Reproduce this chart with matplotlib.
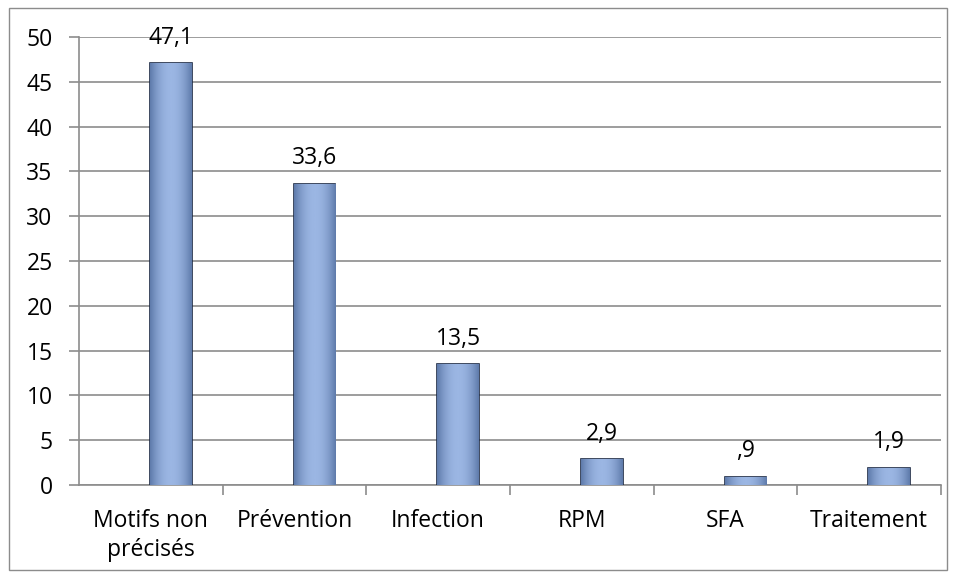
import numpy as np
import matplotlib.pyplot as plt
from matplotlib.patches import Rectangle

categories = ["Motifs non\nprécisés", "Prévention", "Infection", "RPM", "SFA", "Traitement"]
values = [47.1, 33.6, 13.5, 2.9, 0.9, 1.9]
value_labels = ["47,1", "33,6", "13,5", "2,9", ",9", "1,9"]

plt.rcParams['font.family'] = ['Open Sans', 'DejaVu Sans']
FS = 16.5

fig = plt.figure(figsize=(9.58, 5.78), dpi=100)
ax = fig.add_axes([0.0825, 0.161, 0.8995, 0.775])

# chart border around the whole figure
fig.patches.append(Rectangle((9 / 958, 8 / 578), 938 / 958, 562 / 578,
                             transform=fig.transFigure, fill=False,
                             edgecolor='#8c8c8c', linewidth=1))

x = np.arange(len(categories))
# bars sit a little right of the category centre
bar_x = x + 0.14
bars = ax.bar(bar_x, values, width=0.29, color='#8aa5d4', edgecolor='#1c2a44',
              linewidth=1.2, zorder=3)

# shaded fill: darker at the sides, lighter in the middle
grad = np.linspace(0, 1, 64)
shade = 1 - (2 * grad - 1) ** 2
cmap = plt.matplotlib.colors.LinearSegmentedColormap.from_list(
    'bar', ['#5f7bab', '#9bb6e3'])
for bar in bars:
    bx, by = bar.get_x(), bar.get_y()
    w, h = bar.get_width(), bar.get_height()
    im = ax.imshow(shade[np.newaxis, :], cmap=cmap, aspect='auto',
                   extent=[bx, bx + w, by, by + h], zorder=3.5)
    im.set_clip_path(bar)

for xi, v, lab in zip(bar_x, values, value_labels):
    ax.annotate(lab, (xi, v), xytext=(0, 14), textcoords='offset points',
                ha='center', va='baseline', fontsize=FS, color='black')

ax.set_xlim(-0.5, len(categories) - 0.5)
ax.set_ylim(0, 50)
ax.set_yticks(np.arange(0, 51, 5))
ax.yaxis.grid(True, color='#8c8c8c', linewidth=1.2, zorder=0)
ax.set_axisbelow(True)

ax.set_xticks(x)
ax.set_xticklabels(categories, fontsize=FS, linespacing=1.3)
ax.tick_params(axis='x', which='major', length=0, pad=17)
ax.set_xticks(np.arange(0.5, len(categories), 1), minor=True)
ax.tick_params(axis='x', which='minor', length=7, color='#8c8c8c', width=1.2)
ax.tick_params(axis='y', length=7, color='#8c8c8c', width=1.2, labelsize=FS, pad=12)

for side in ['top', 'right']:
    ax.spines[side].set_visible(False)
for side in ['left', 'bottom']:
    ax.spines[side].set_color('#8c8c8c')
    ax.spines[side].set_linewidth(1.2)

fig.savefig('out.png', dpi=100)
